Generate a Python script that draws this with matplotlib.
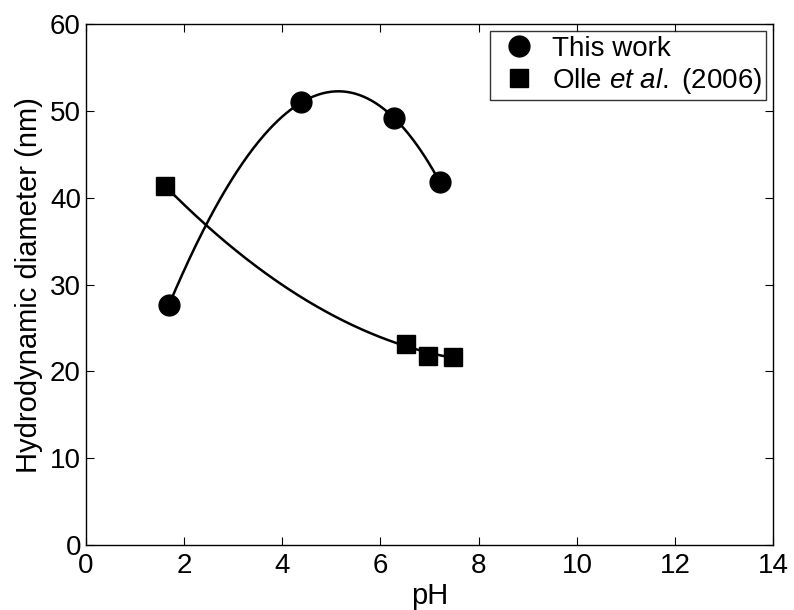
import numpy as np
import matplotlib
matplotlib.use("Agg")
import matplotlib.pyplot as plt

plt.rcParams['font.family'] = ['Liberation Sans', 'DejaVu Sans']
plt.rcParams['mathtext.fontset'] = 'custom'
plt.rcParams['mathtext.rm'] = 'Liberation Sans'
plt.rcParams['mathtext.it'] = 'Liberation Sans:italic'

# measured hydrodynamic diameters vs pH
ph_this = [1.69, 4.39, 6.28, 7.21]
d_this = [27.6, 51.0, 49.2, 41.8]

ph_olle = [1.61, 6.53, 6.96, 7.48]
d_olle = [41.4, 23.1, 21.8, 21.7]

fig = plt.figure(figsize=(7.94, 6.10), dpi=100)
ax = fig.add_axes([0.108, 0.107, 0.866, 0.853])

# smooth trend curves through each data set
xs = np.linspace(min(ph_this), max(ph_this), 200)
ax.plot(xs, np.polyval(np.polyfit(ph_this, d_this, 3), xs), color='k', lw=1.8)
xo = np.linspace(min(ph_olle), max(ph_olle), 200)
ax.plot(xo, np.polyval(np.polyfit(ph_olle, d_olle, 2), xo), color='k', lw=1.8)

ax.plot(ph_this, d_this, 'o', color='k', ms=15, label='This work')
ax.plot(ph_olle, d_olle, 's', color='k', ms=12.5,
        label='Olle $\\it{et\\ al.}$ (2006)')

ax.set_xlim(0, 14)
ax.set_ylim(0, 60)
ax.set_xticks(range(0, 15, 2))
ax.set_yticks(range(0, 61, 10))
ax.tick_params(direction='in', top=True, right=True, labelsize=20, length=6, width=0.8)
ax.tick_params(axis='x', pad=6)
for s in ax.spines.values():
    s.set_linewidth(1.0)

ax.set_xlabel('pH', fontsize=21, labelpad=2)
ax.set_ylabel('Hydrodynamic diameter (nm)', fontsize=21, labelpad=5)

leg = ax.legend(loc='upper right', fontsize=20, frameon=True, fancybox=False,
                handletextpad=0.25, borderpad=0.15, handlelength=1.85,
                borderaxespad=0.25, labelspacing=0.15)
leg.get_frame().set_edgecolor('k')
leg.get_frame().set_linewidth(1.0)

fig.savefig('out.png', dpi=100)
